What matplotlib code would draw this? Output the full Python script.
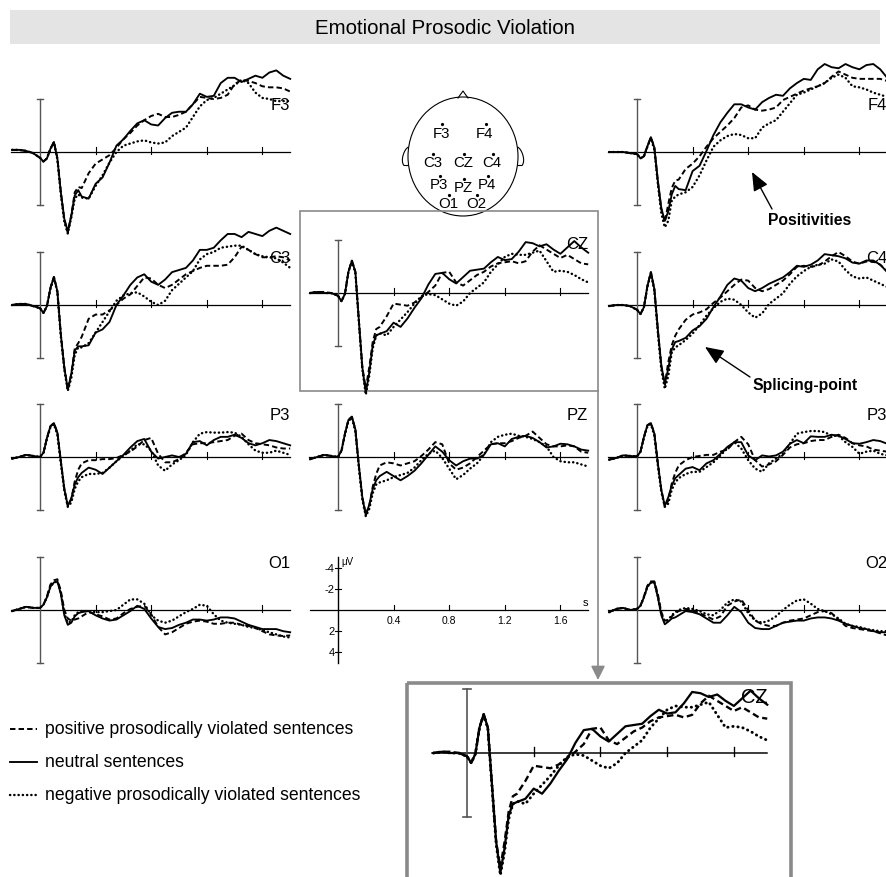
import matplotlib
matplotlib.use("Agg")
import matplotlib.pyplot as plt
from matplotlib.patches import Rectangle, Ellipse, PathPatch
from matplotlib.path import Path

W, H = 887, 878
plt.rcParams["font.family"] = ["Liberation Sans", "DejaVu Sans"]

# sample times (s); denser around the early components
TIME = ([-0.2, -0.15, -0.1, -0.05]
        + [0.0, 0.025, 0.05, 0.075, 0.1, 0.125, 0.15, 0.175, 0.2, 0.225, 0.25, 0.275, 0.3]
        + [0.35, 0.4, 0.45, 0.5, 0.55, 0.6, 0.65, 0.7, 0.75, 0.8, 0.85, 0.9, 0.95, 1.0,
           1.05, 1.1, 1.15, 1.2, 1.25, 1.3, 1.35, 1.4, 1.45, 1.5, 1.55, 1.6, 1.65, 1.7, 1.75, 1.8])

# grand averages in microvolts (negative plotted up)
F3_POS = [-0.2, -0.2, -0.1, 0.1, 0.55, 0.9, 0.6, -0.3, -0.95, 0.6, 3.8, 6.4, 7.6, 6.0, 3.8, 3.3, 3.4,
          2.0, 1.1, 0.7, 0.3, -0.4, -1.2, -1.8, -2.5, -3.0, -3.4, -3.6, -3.3, -3.3, -3.5, -3.8, -4.5, -5.2, -5.1, -5.0, -5.1,
          -5.4, -6.4, -6.8, -6.7, -6.5, -6.2, -6.1, -6.1, -6.0, -5.7]
F3_NEU = [-0.2, -0.2, -0.1, 0.1, 0.55, 0.9, 0.6, -0.3, -0.95, 0.6, 3.8, 6.3, 7.5, 6.0, 4.1, 3.6, 4.2,
          4.4, 3.0, 2.4, 1.0, -0.6, -1.2, -2.0, -2.7, -3.0, -2.6, -2.5, -3.2, -3.7, -3.8, -3.8, -4.5, -5.5, -5.2, -5.3, -6.5,
          -7.0, -7.0, -6.6, -6.9, -7.2, -7.0, -7.5, -7.7, -7.2, -6.9]
F3_NEG = [-0.2, -0.2, -0.1, 0.1, 0.55, 0.9, 0.6, -0.3, -0.9, 0.7, 4.0, 6.6, 7.7, 6.2, 4.4, 4.0, 4.3,
          4.4, 3.2, 2.2, 1.0, 0.0, -0.6, -0.8, -1.0, -1.1, -0.9, -0.8, -0.9, -1.5, -1.9, -2.3, -3.3, -4.3, -4.9, -5.1, -5.5,
          -5.9, -6.3, -6.8, -6.5, -5.6, -5.1, -5.0, -4.8, -4.8, -4.8]

F4_POS = [0.0, 0.0, 0.0, 0.1, 0.2, 0.6, 0.4, -0.55, -1.4, -0.4, 2.8, 5.4, 6.6, 4.9, 3.4, 2.7, 2.6,
          1.6, 1.1, 0.4, -0.5, -1.3, -1.9, -2.5, -3.2, -4.2, -4.4, -4.0, -3.9, -4.0, -4.2, -4.9, -5.2, -5.5, -5.8, -6.0, -6.2,
          -6.5, -7.1, -7.6, -7.3, -7.0, -6.9, -6.9, -6.9, -6.9, -6.7]
F4_NEU = [0.0, 0.0, 0.0, 0.1, 0.2, 0.6, 0.4, -0.55, -1.4, -0.4, 2.7, 5.3, 6.5, 5.6, 4.0, 3.2, 3.5,
          3.6, 1.8, 1.3, -0.1, -1.6, -2.8, -3.7, -4.5, -4.5, -4.2, -4.0, -4.7, -5.1, -5.4, -5.3, -6.0, -6.5, -6.9, -6.8, -7.8,
          -8.3, -8.0, -7.9, -8.3, -8.0, -7.8, -8.2, -8.3, -7.8, -7.0]
F4_NEG = [0.0, 0.0, 0.0, 0.1, 0.2, 0.6, 0.4, -0.5, -1.3, -0.2, 3.0, 5.8, 7.1, 6.5, 4.6, 4.2, 4.0,
          3.8, 3.3, 2.2, 0.8, -0.5, -1.1, -1.5, -1.7, -1.6, -1.3, -1.3, -2.3, -2.7, -3.0, -3.8, -4.6, -5.4, -5.6, -5.9, -6.2,
          -6.5, -7.0, -7.3, -7.0, -6.2, -6.1, -5.9, -5.6, -5.4, -5.2]

C3_POS = [0.0, -0.1, -0.1, 0.1, 0.3, 0.75, 0.1, -1.6, -2.65, -1.3, 2.8, 5.9, 8.0, 6.5, 4.1, 3.6, 3.0,
          1.3, 0.9, 0.9, 0.5, 0.0, -0.6, -1.0, -1.8, -2.6, -2.5, -1.9, -1.6, -1.9, -2.4, -2.9, -3.2, -3.5, -3.7, -3.7, -3.7,
          -3.8, -4.5, -5.5, -5.2, -4.8, -4.5, -4.5, -4.6, -4.5, -4.2]
C3_NEU = [0.0, -0.1, -0.1, 0.1, 0.3, 0.75, 0.1, -1.6, -2.65, -1.3, 2.8, 5.9, 8.0, 6.5, 4.3, 3.9, 3.9,
          3.8, 2.6, 2.3, 1.6, 0.0, -0.9, -1.9, -2.6, -2.9, -2.2, -1.9, -2.4, -3.1, -3.3, -3.5, -4.2, -5.2, -5.2, -5.4, -6.1,
          -6.7, -6.7, -6.4, -6.9, -6.7, -6.5, -7.0, -7.3, -7.0, -6.7]
C3_NEG = [0.0, -0.1, -0.1, 0.1, 0.3, 0.75, 0.1, -1.5, -2.6, -1.2, 3.0, 6.1, 8.1, 6.9, 4.7, 4.0, 4.0,
          3.6, 2.6, 1.6, 0.6, -0.4, -0.9, -1.1, -1.2, -0.8, -0.3, 0.0, -0.4, -1.4, -2.0, -2.6, -3.2, -4.3, -4.8, -5.0, -5.4,
          -5.5, -5.6, -5.6, -5.2, -4.8, -4.6, -4.5, -4.4, -4.0, -3.5]

CZ_POS = [0.0, -0.1, -0.1, 0.0, 0.26, 0.78, 0.08, -2.0, -3.05, -2.0, 2.6, 7.0, 9.0, 7.0, 4.6, 3.4, 3.2,
          2.2, 1.0, 1.1, 1.2, 0.9, 0.4, -0.1, -0.7, -1.9, -2.0, -1.0, -0.7, -1.2, -1.7, -2.0, -2.5, -2.8, -2.9, -3.0, -2.8,
          -3.0, -3.9, -4.5, -4.1, -3.7, -3.3, -3.6, -3.2, -2.8, -2.7]
CZ_NEU = [0.0, -0.1, 0.0, 0.0, 0.26, 0.78, 0.08, -2.0, -3.05, -2.0, 2.55, 7.0, 9.4, 7.5, 4.9, 4.0, 3.85,
          3.6, 2.8, 3.2, 2.4, 1.4, 0.5, -0.8, -1.8, -1.9, -1.3, -0.9, -1.5, -2.1, -2.2, -2.3, -2.9, -3.4, -3.1, -3.2, -3.9,
          -4.8, -4.7, -4.4, -4.6, -4.1, -3.7, -4.3, -4.9, -4.3, -3.8]
CZ_NEG = [0.0, -0.1, 0.0, 0.0, 0.26, 0.78, 0.08, -2.0, -3.0, -1.9, 2.7, 7.2, 9.6, 7.8, 5.2, 4.0, 3.8,
          4.0, 3.2, 2.5, 1.8, 1.0, 0.3, 0.1, 0.2, 0.6, 1.0, 1.2, 0.8, 0.0, -0.5, -1.0, -2.0, -2.7, -3.4, -3.7, -3.6,
          -3.6, -3.8, -4.0, -3.0, -2.0, -2.1, -2.0, -1.7, -1.3, -1.0]

C4_POS = [0.1, 0.0, 0.0, 0.1, 0.45, 0.85, 0.2, -1.8, -3.1, -1.5, 2.4, 5.8, 7.5, 5.4, 3.8, 2.9, 2.3,
          1.4, 0.9, 0.7, 0.4, -0.2, -0.7, -1.3, -1.9, -2.4, -2.3, -1.6, -1.3, -1.5, -1.9, -2.3, -2.9, -3.6, -3.7, -3.6, -3.7,
          -4.1, -4.6, -5.0, -4.6, -4.1, -3.9, -4.1, -4.1, -3.8, -3.2]
C4_NEU = [0.1, 0.0, 0.0, 0.1, 0.45, 0.85, 0.2, -1.8, -3.1, -1.5, 2.3, 5.7, 7.45, 6.0, 4.2, 3.5, 3.4,
          3.1, 2.4, 2.0, 1.3, 0.2, -0.8, -1.9, -2.5, -2.3, -1.6, -1.3, -1.6, -2.0, -2.3, -2.6, -3.1, -3.7, -3.6, -3.8, -4.2,
          -4.8, -4.7, -4.6, -4.4, -4.0, -3.9, -4.2, -4.2, -3.8, -3.1]
C4_NEG = [0.1, 0.0, 0.0, 0.1, 0.45, 0.85, 0.2, -1.7, -3.0, -1.3, 2.6, 6.1, 7.9, 6.7, 4.5, 4.0, 3.8,
          3.3, 2.7, 1.9, 1.0, 0.3, -0.3, -0.6, -0.5, 0.0, 0.7, 1.2, 0.8, -0.1, -0.6, -1.1, -2.0, -2.7, -3.2, -3.6, -3.8,
          -3.9, -4.3, -4.1, -3.3, -2.7, -2.5, -2.6, -2.3, -2.0, -1.7]

P3_POS = [0.15, 0.0, -0.2, -0.1, 0.0, -0.4, -1.8, -2.9, -3.2, -2.3, 0.4, 3.0, 4.6, 4.0, 2.3, 1.2, 0.6,
          0.3, 0.3, 0.2, 0.2, 0.1, -0.2, -0.5, -1.0, -1.6, -1.8, -0.3, 0.5, 0.5, 0.2, -0.4, -1.2, -1.3, -1.3, -1.4, -1.5,
          -1.6, -2.0, -2.2, -1.6, -1.3, -1.2, -1.1, -0.9, -0.8, -0.8]
P3_NEU = [0.15, 0.0, -0.2, -0.1, 0.0, -0.4, -1.8, -2.9, -3.2, -2.3, 0.4, 3.0, 4.6, 3.9, 2.6, 1.9, 1.5,
          1.0, 1.2, 1.6, 1.0, 0.4, -0.2, -0.9, -1.5, -1.7, -0.5, 0.15, 0.0, -0.15, 0.0, -0.3, -1.4, -1.5, -1.1, -1.6, -1.9,
          -1.9, -2.1, -1.8, -1.3, -1.1, -1.3, -1.6, -1.5, -1.3, -1.1]
P3_NEG = [0.15, 0.0, -0.2, -0.1, 0.0, -0.4, -1.7, -2.8, -3.1, -2.1, 0.6, 3.2, 4.7, 4.3, 3.0, 2.3, 1.9,
          1.6, 1.6, 1.5, 1.0, 0.4, -0.1, -0.6, -1.2, -1.2, -0.6, 0.8, 1.3, 0.7, 0.3, -0.2, -1.4, -2.2, -2.35, -2.3, -2.3,
          -2.35, -2.3, -1.9, -1.2, -0.6, -0.4, -0.4, -0.6, -0.4, -0.2]

PZ_POS = [0.2, 0.0, -0.2, -0.1, 0.0, -0.6, -2.2, -3.5, -3.8, -2.6, 0.8, 3.8, 5.4, 4.6, 2.8, 1.6, 0.8,
          0.5, 0.6, 0.8, 0.6, 0.4, -0.1, -0.7, -1.4, -1.2, 0.6, 1.2, 1.0, 0.6, 0.0, -0.6, -1.2, -1.3, -1.3, -1.5, -1.8,
          -2.0, -2.4, -1.8, -1.2, -1.0, -1.0, -1.1, -1.0, -0.5, -0.4]
PZ_NEU = [0.2, 0.0, -0.2, -0.1, 0.0, -0.6, -2.2, -3.5, -3.8, -2.6, 0.8, 3.8, 5.5, 4.5, 3.0, 2.2, 1.8,
          1.4, 1.8, 2.2, 1.8, 1.3, 0.6, -0.2, -1.0, -0.5, 0.3, 0.8, 0.4, 0.15, 0.15, -0.2, -1.2, -1.3, -1.0, -1.7, -1.9,
          -2.0, -1.8, -1.4, -0.9, -1.0, -1.25, -1.2, -1.0, -0.7, -0.6]
PZ_NEG = [0.2, 0.0, -0.2, -0.1, 0.0, -0.6, -2.1, -3.4, -3.7, -2.4, 1.0, 4.0, 5.6, 4.9, 3.4, 2.6, 2.4,
          2.2, 1.9, 1.7, 1.5, 1.0, 0.3, -0.3, -0.6, 0.1, 1.1, 2.1, 1.7, 1.1, 0.6, -0.2, -1.4, -1.9, -2.1, -2.2, -2.0,
          -1.9, -1.7, -1.4, -1.0, 0.0, 0.4, 0.5, 0.5, 0.7, 0.9]

P4_POS = [0.25, 0.1, -0.15, -0.1, -0.05, -0.5, -1.9, -3.0, -3.2, -2.2, 0.6, 3.1, 4.7, 4.1, 2.5, 1.5, 0.8,
          0.3, 0.0, -0.1, -0.2, -0.2, -0.5, -0.7, -1.4, -1.9, -1.2, 0.3, 0.9, 0.7, 0.4, -0.2, -0.9, -1.2, -1.3, -1.5, -1.6,
          -1.6, -1.9, -2.1, -1.8, -1.3, -1.1, -1.0, -0.7, -0.6, -0.5]
P4_NEU = [0.25, 0.1, -0.15, -0.1, -0.05, -0.5, -1.9, -3.0, -3.2, -2.2, 0.6, 3.1, 4.6, 3.8, 2.7, 2.0, 1.7,
          1.1, 0.95, 1.25, 0.6, 0.3, -0.3, -0.95, -1.4, -1.4, -0.15, 0.3, -0.15, -0.05, -0.15, -0.5, -1.25, -1.6, -1.3, -1.95, -1.9,
          -1.9, -2.1, -2.0, -1.7, -1.3, -1.25, -1.4, -1.6, -1.5, -1.25]
P4_NEG = [0.25, 0.1, -0.15, -0.1, -0.05, -0.5, -1.8, -2.9, -3.1, -2.0, 0.8, 3.3, 4.7, 4.4, 3.1, 2.4, 2.0,
          1.6, 1.4, 1.4, 0.95, 0.5, -0.15, -0.8, -1.4, -0.8, 0.3, 1.1, 1.4, 0.6, 0.15, -0.3, -1.25, -2.2, -2.35, -2.45, -2.45,
          -2.35, -2.0, -2.0, -1.4, -0.95, -0.3, -0.5, -0.6, -0.3, -0.15]

O1_POS = [0.1, -0.1, -0.3, -0.2, -0.2, -0.5, -1.3, -2.4, -2.8, -2.9, -1.8, 0.0, 0.8, 1.0, 0.9, 0.8, 0.6,
          0.2, 0.4, 0.6, 0.9, 0.8, 0.3, -0.1, -0.3, -0.4, 0.4, 1.6, 2.3, 2.1, 1.7, 1.3, 1.1, 1.0, 1.1, 1.3, 1.3,
          1.2, 1.2, 1.4, 1.5, 1.7, 2.0, 2.3, 2.4, 2.45, 2.4]
O1_NEU = [0.1, -0.1, -0.3, -0.2, -0.2, -0.5, -1.2, -2.2, -2.6, -2.7, -1.5, 0.5, 1.4, 1.2, 0.6, 0.3, 0.2,
          0.1, 0.5, 0.8, 1.0, 0.9, 0.5, 0.1, -0.4, -0.1, 0.8, 1.6, 1.8, 1.7, 1.4, 1.2, 0.9, 0.9, 1.0, 0.9, 0.7,
          0.7, 0.8, 1.1, 1.4, 1.6, 1.8, 1.8, 1.8, 2.0, 2.1]
O1_NEG = [0.1, -0.1, -0.3, -0.2, -0.2, -0.5, -1.2, -2.2, -2.6, -2.7, -1.6, 0.3, 1.2, 1.1, 0.5, 0.2, 0.1,
          0.1, 0.2, 0.2, 0.1, 0.0, -0.5, -1.0, -1.0, -0.6, 0.5, 1.0, 1.2, 1.0, 0.6, 0.2, -0.1, -0.5, -0.4, 0.4, 1.0,
          1.2, 1.3, 1.4, 1.6, 1.7, 1.9, 2.1, 2.3, 2.5, 2.6]

O2_POS = [0.2, -0.1, -0.2, 0.0, -0.1, -0.4, -1.3, -2.3, -2.7, -2.7, -1.5, 0.2, 1.0, 1.0, 0.6, 0.3, 0.1,
          -0.1, 0.0, 0.3, 0.6, 0.9, 0.6, -0.4, -0.8, -1.0, 0.0, 1.0, 1.35, 1.5, 1.5, 1.2, 1.0, 0.9, 0.8, 0.5, 0.2,
          0.1, 0.3, 0.9, 1.5, 1.7, 1.8, 1.9, 2.0, 2.2, 2.4]
O2_NEU = [0.2, -0.1, -0.2, 0.0, -0.1, -0.4, -1.2, -2.2, -2.6, -2.6, -1.2, 0.5, 1.35, 1.1, 0.8, 0.7, 0.5,
          0.1, 0.2, 0.4, 0.8, 1.2, 1.2, 0.5, -0.3, 0.2, 1.2, 1.7, 1.8, 1.8, 1.5, 1.2, 1.1, 1.0, 1.0, 0.8, 0.7,
          0.7, 0.8, 1.0, 1.3, 1.5, 1.7, 1.8, 2.0, 2.1, 2.1]
O2_NEG = [0.2, -0.1, -0.2, 0.0, -0.1, -0.4, -1.2, -2.2, -2.6, -2.6, -1.3, 0.4, 1.1, 0.9, 0.5, 0.2, 0.0,
          -0.2, -0.1, 0.1, 0.4, 0.5, 0.0, -0.7, -1.0, -0.8, 0.3, 1.0, 1.2, 1.0, 0.6, 0.0, -0.5, -0.9, -1.0, -0.6, -0.1,
          0.1, 0.4, 0.8, 1.3, 1.5, 1.6, 1.8, 1.9, 2.0, 2.0]

SCALE_TICKS_S = [0.4, 0.8, 1.2, 1.6]
SCALE_TICKS_UV = [-4, -2, 2, 4]

ELECTRODES = ["F3", "F4", "C3", "CZ", "C4", "P3", "PZ", "P4", "O1", "O2"]
LEGEND = ["positive prosodically violated sentences", "neutral sentences",
          "negative prosodically violated sentences"]

PX_PER_S, PX_PER_UV = 139.0, 10.6

DASHED = (0, (2.8, 1.6))
DOTTED = (0, (0.1, 1.65))


def panel_axes(fig, x0, y0, k=1.0):
    """Axes whose data origin (t=0, 0 uV) sits at pixel (x0, y0)."""
    sx, sy = PX_PER_S * k, PX_PER_UV * k
    t_lo, t_hi = -0.3, 1.9
    v_lo, v_hi = -11.0, 11.0
    left = x0 + sx * t_lo
    top = y0 + sy * v_lo
    w, h = sx * (t_hi - t_lo), sy * (v_hi - v_lo)
    ax = fig.add_axes([left / W, 1 - (top + h) / H, w / W, h / H])
    ax.set_xlim(t_lo, t_hi)
    ax.set_ylim(v_hi, v_lo)
    ax.axis("off")
    return ax


def draw_erp(ax, name, pos, neu, neg, label_uv, k=1.0):
    ax.plot([-0.21, 1.8], [0, 0], color="black", lw=0.9 * k, clip_on=False)
    for tk in SCALE_TICKS_S:
        ax.plot([tk, tk], [-0.45, 0.2], color="black", lw=0.8 * k, clip_on=False)
    bar = "#555555"
    ax.plot([0, 0], [-5, 5], color=bar, lw=1.0 * k, clip_on=False)
    for v in (-5, 5):
        ax.plot([-0.022, 0.022], [v, v], color=bar, lw=1.0 * k, clip_on=False)
    ax.plot(TIME, pos, color="black", lw=1.4 * k, ls=DASHED, clip_on=False)
    ax.plot(TIME, neu, color="black", lw=1.35 * k, ls="-", clip_on=False)
    ax.plot(TIME, neg, color="black", lw=1.75 * k, ls=DOTTED,
            dash_capstyle="round", clip_on=False)
    ax.text(1.8, label_uv, name, ha="right", va="center", fontsize=12 * k)


fig = plt.figure(figsize=(W / 100, H / 100), dpi=100)

# page-level overlay in pixel coordinates
ov = fig.add_axes([0, 0, 1, 1])
ov.set_xlim(0, W)
ov.set_ylim(H, 0)
ov.axis("off")

ov.add_patch(Rectangle((10, 11), 870, 34, facecolor="#e4e4e4", edgecolor="none"))
ov.text(445, 28, "Emotional Prosodic Violation", ha="center", va="center", fontsize=14.8)

# electrode map
ov.add_patch(Ellipse((463, 157.5), 110, 119, fill=False, edgecolor="black", lw=0.8))
ov.plot([458, 463, 468], [99, 92, 99], color="black", lw=0.8)
for side in (-1, 1):
    cx = 463
    pts = [(cx + side * 54.5, 148), (cx + side * 59, 150), (cx + side * 63, 162),
           (cx + side * 59, 166.5), (cx + side * 54.5, 166.5)]
    codes = [Path.MOVETO, Path.CURVE4, Path.CURVE4, Path.CURVE4, Path.LINETO]
    ov.add_patch(PathPatch(Path(pts, codes), fill=False, edgecolor="black", lw=0.8))
head_pos = {"F3": (441.5, 133.5), "F4": (485, 133.5), "C3": (432.5, 163), "CZ": (463.5, 163),
            "C4": (492, 163), "P3": (439, 185), "PZ": (463.5, 188), "P4": (487, 185),
            "O1": (448.5, 204), "O2": (476, 204)}
for name in ELECTRODES:
    x, y = head_pos[name]
    ov.text(x, y, name, ha="center", va="center", fontsize=10.8)
    ov.plot([x + 1], [y - 8.5], marker="o", ms=1.3, color="black")

# frame around CZ and its enlargement
box_grey = "#8a8a8a"
ov.add_patch(Rectangle((300, 212), 298, 180, fill=False, edgecolor=box_grey, lw=1.2))
ov.add_patch(Rectangle((407, 684), 384, 230, fill=False, edgecolor=box_grey, lw=2.6))
ov.annotate("", xy=(598, 681), xytext=(598, 392),
            arrowprops=dict(arrowstyle="-|>,head_length=0.7,head_width=0.35", color=box_grey,
                            lw=1.2, mutation_scale=12, shrinkA=0, shrinkB=0))

# annotations
arrow_kw = dict(arrowstyle="-|>,head_length=0.95,head_width=0.4", color="black",
                lw=1.0, mutation_scale=12, shrinkA=0, shrinkB=0)
ov.annotate("", xy=(752, 173), xytext=(772, 210), arrowprops=arrow_kw)
ov.text(810, 221, "Positivities", ha="center", va="center", fontsize=11.3, fontweight="bold")
ov.annotate("", xy=(705, 348), xytext=(750, 378), arrowprops=arrow_kw)
ov.text(805, 386, "Splicing-point", ha="center", va="center", fontsize=11.3, fontweight="bold")

# legend
leg_styles = [dict(ls=DASHED, lw=1.4), dict(ls="-", lw=1.35),
              dict(ls=DOTTED, lw=1.75, dash_capstyle="round")]
for i, (text, st) in enumerate(zip(LEGEND, leg_styles)):
    y = 730 + 33 * i
    ov.plot([10, 37], [y, y], color="black", **st)
    ov.text(45, y, text, ha="left", va="center", fontsize=12.7)

# electrode panels: name, pixel origin, data, label height
panels = [
    ("F3", 40, 153, (F3_POS, F3_NEU, F3_NEG), -4.5),
    ("F4", 637, 153, (F4_POS, F4_NEU, F4_NEG), -4.5),
    ("C3", 40, 306, (C3_POS, C3_NEU, C3_NEG), -4.5),
    ("CZ", 338, 294, (CZ_POS, CZ_NEU, CZ_NEG), -4.7),
    ("C4", 637, 306, (C4_POS, C4_NEU, C4_NEG), -4.5),
    ("P3", 40, 458, (P3_POS, P3_NEU, P3_NEG), -4.0),
    ("PZ", 338, 458, (PZ_POS, PZ_NEU, PZ_NEG), -4.0),
    ("P3", 637, 458, (P4_POS, P4_NEU, P4_NEG), -4.0),
    ("O1", 40, 611, (O1_POS, O1_NEU, O1_NEG), -4.5),
    ("O2", 637, 611, (O2_POS, O2_NEU, O2_NEG), -4.5),
]
for name, x0, y0, (pos, neu, neg), lab in panels:
    ax = panel_axes(fig, x0, y0)
    draw_erp(ax, name, pos, neu, neg, lab)

# enlarged CZ
ax = panel_axes(fig, 467, 754, k=1.2)
draw_erp(ax, "CZ", CZ_POS, CZ_NEU, CZ_NEG, -4.45, k=1.2)

# calibration panel
ax = panel_axes(fig, 338, 611)
ax.plot([-0.2, 1.8], [0, 0], color="black", lw=0.9, clip_on=False)
ax.plot([0, 0], [-5, 5], color="black", lw=1.0, clip_on=False)
for tk in SCALE_TICKS_S:
    ax.plot([tk, tk], [-0.5, 0], color="black", lw=0.8)
    ax.text(tk, 0.9, f"{tk:.1f}", ha="center", va="center", fontsize=7.5)
for v in SCALE_TICKS_UV:
    ax.plot([-0.02, 0.02], [v, v], color="black", lw=0.8)
    ax.text(-0.025, v, f"{v}", ha="right", va="center", fontsize=8)
ax.text(0.025, -4.6, "\u03bcV", ha="left", va="center", fontsize=7)
ax.text(1.78, -0.8, "s", ha="center", va="center", fontsize=8)

fig.savefig("out.png", dpi=100)
